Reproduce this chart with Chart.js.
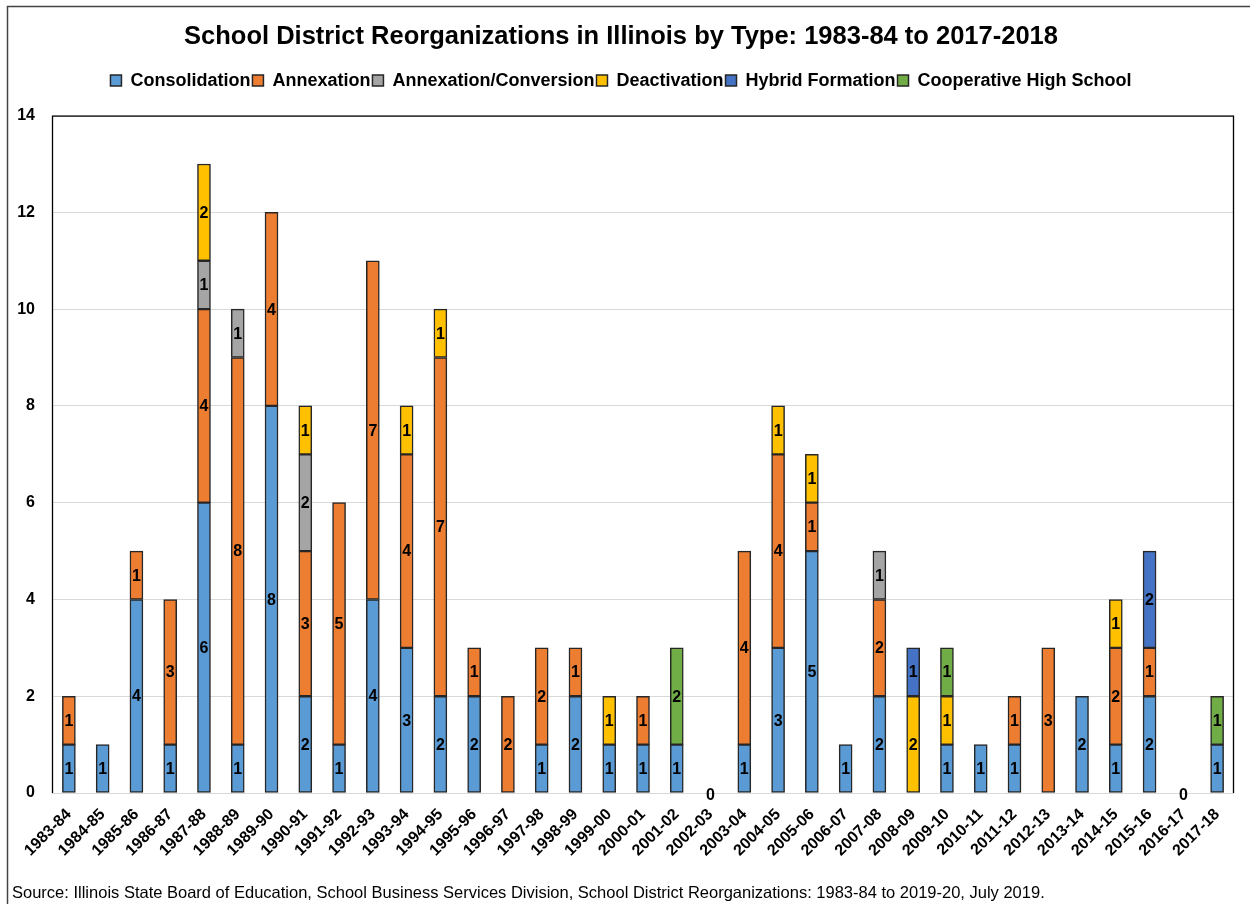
<!DOCTYPE html>
<html>
<head>
<meta charset="utf-8">
<script src="https://cdn.jsdelivr.net/npm/chart.js@4"></script>
<style>
  html, body { margin: 0; padding: 0; background: #fff; }
  #wrap { width: 1250px; height: 904px; position: relative; }
</style>
</head>
<body>
<div id="wrap"><canvas id="grafico" width="1250" height="904"></canvas></div>
<script>
// Años escolares
const years = ["1983-84","1984-85","1985-86","1986-87","1987-88","1988-89","1989-90","1990-91","1991-92","1992-93",
  "1993-94","1994-95","1995-96","1996-97","1997-98","1998-99","1999-00","2000-01","2001-02","2002-03",
  "2003-04","2004-05","2005-06","2006-07","2007-08","2008-09","2009-10","2010-11","2011-12","2012-13",
  "2013-14","2014-15","2015-16","2016-17","2017-18"];

// Series
const consolidation = [1,1,4,1,6,1,8,2,1,4, 3,2,2,0,1,2,1,1,1,0, 1,3,5,1,2,0,1,1,1,0, 2,1,2,0,1];
const annexation    = [1,0,1,3,4,8,4,3,5,7, 4,7,1,2,2,1,0,1,0,0, 4,4,1,0,2,0,0,0,1,3, 0,2,1,0,0];
const annexConv     = [0,0,0,0,1,1,0,2,0,0, 0,0,0,0,0,0,0,0,0,0, 0,0,0,0,1,0,0,0,0,0, 0,0,0,0,0];
const deactivation  = [0,0,0,0,2,0,0,1,0,0, 1,1,0,0,0,0,1,0,0,0, 0,1,1,0,0,2,1,0,0,0, 0,1,0,0,0];
const hybrid        = [0,0,0,0,0,0,0,0,0,0, 0,0,0,0,0,0,0,0,0,0, 0,0,0,0,0,1,0,0,0,0, 0,0,2,0,0];
const coopHigh      = [0,0,0,0,0,0,0,0,0,0, 0,0,0,0,0,0,0,0,2,0, 0,0,0,0,0,0,1,0,0,0, 0,0,0,0,1];

const yTicks = [0, 2, 4, 6, 8, 10, 12, 14];

const FONT = "'Liberation Sans', Arial, sans-serif";

const series = [
  { label: "Consolidation", data: consolidation, color: "#5B9BD5" },
  { label: "Annexation", data: annexation, color: "#ED7D31" },
  { label: "Annexation/Conversion", data: annexConv, color: "#A5A5A5" },
  { label: "Deactivation", data: deactivation, color: "#FFC000" },
  { label: "Hybrid Formation", data: hybrid, color: "#4472C4" },
  { label: "Cooperative High School", data: coopHigh, color: "#70AD47" }
];

// Etiquetas dentro de las barras + ceros + marco
const etiquetas = {
  id: "etiquetas",
  afterInit(chart) {
    // deja más aire entre la leyenda y el área de trazado
    const legend = chart.legend;
    const fitOrig = legend.fit;
    legend.fit = function () {
      fitOrig.call(this);
      this.height += 16;
    };
  },
  afterDatasetsDraw(chart) {
    const ctx = chart.ctx;
    ctx.save();
    ctx.font = "bold 16px " + FONT;
    ctx.fillStyle = "#000";
    ctx.textAlign = "center";
    ctx.textBaseline = "middle";
    chart.data.datasets.forEach((ds, i) => {
      const meta = chart.getDatasetMeta(i);
      meta.data.forEach((bar, j) => {
        const v = ds.data[j];
        if (!v) return;
        ctx.fillText(String(v), bar.x, (bar.y + bar.base) / 2 + 1);
      });
    });
    // totales en cero
    const y0 = chart.scales.y.getPixelForValue(0);
    years.forEach((yr, j) => {
      const total = series.reduce((s, d) => s + d.data[j], 0);
      if (total === 0) {
        ctx.fillText("0", chart.scales.x.getPixelForValue(j), y0 + 3);
      }
    });
    ctx.restore();
  },
  afterDraw(chart) {
    const ctx = chart.ctx;
    const a = chart.chartArea;
    ctx.save();
    // marco del área de trazado
    ctx.strokeStyle = "#000";
    ctx.lineWidth = 1.3;
    ctx.beginPath();
    ctx.moveTo(a.left + 0.5, a.bottom);
    ctx.lineTo(a.left + 0.5, a.top + 0.5);
    ctx.lineTo(a.right - 0.5, a.top + 0.5);
    ctx.lineTo(a.right - 0.5, a.bottom);
    ctx.stroke();
    // borde exterior
    ctx.strokeStyle = "#444";
    ctx.lineWidth = 1.5;
    ctx.strokeRect(7.5, 6.5, 1260, 920);
    // fuente
    ctx.font = "16.5px " + FONT;
    ctx.fillStyle = "#000";
    ctx.textAlign = "left";
    ctx.textBaseline = "alphabetic";
    ctx.fillText("Source: Illinois State Board of Education, School Business Services Division, School District Reorganizations: 1983-84 to 2019-20, July 2019.", 12, 898);
    ctx.restore();
  }
};

const ctx = document.getElementById("grafico").getContext("2d");

new Chart(ctx, {
  type: "bar",
  data: {
    labels: years,
    datasets: series.map(s => ({
      label: s.label,
      data: s.data.map(v => v === 0 ? null : v),
      backgroundColor: s.color,
      borderColor: "#262626",
      borderWidth: 1.5,
      borderSkipped: false,
      barThickness: 13,
      categoryPercentage: 1
    }))
  },
  options: {
    responsive: false,
    animation: false,
    layout: { padding: { left: 8, right: 16, top: 0, bottom: 22 } },
    plugins: {
      title: {
        display: true,
        text: "School District Reorganizations in Illinois by Type: 1983-84 to 2017-2018",
        color: "#000",
        font: { family: FONT, size: 25.5, weight: "bold" },
        padding: { top: 22, bottom: 17 }
      },
      legend: {
        display: true,
        labels: {
          color: "#000",
          font: { family: FONT, size: 18, weight: "bold" },
          boxWidth: 11,
          boxHeight: 11,
          padding: 2
        }
      },
      tooltip: { enabled: false }
    },
    scales: {
      x: {
        stacked: true,
        grid: { display: false, drawTicks: false },
        border: { display: false },
        ticks: {
          color: "#000",
          font: { family: FONT, size: 16, weight: "bold" },
          minRotation: 45,
          maxRotation: 45,
          autoSkip: false,
          padding: 12
        },
        afterFit(scale) { scale.height = 89; }
      },
      y: {
        stacked: true,
        min: 0,
        max: 14,
        grid: { color: "#d9d9d9", lineWidth: 1, drawTicks: false },
        border: { display: false },
        afterBuildTicks(scale) { scale.ticks = yTicks.map(v => ({ value: v })); },
        ticks: {
          color: "#000",
          font: { family: FONT, size: 16, weight: "bold" },
          padding: 17
        },
        afterFit(scale) { scale.width = 44; }
      }
    }
  },
  plugins: [etiquetas]
});
</script>
</body>
</html>
